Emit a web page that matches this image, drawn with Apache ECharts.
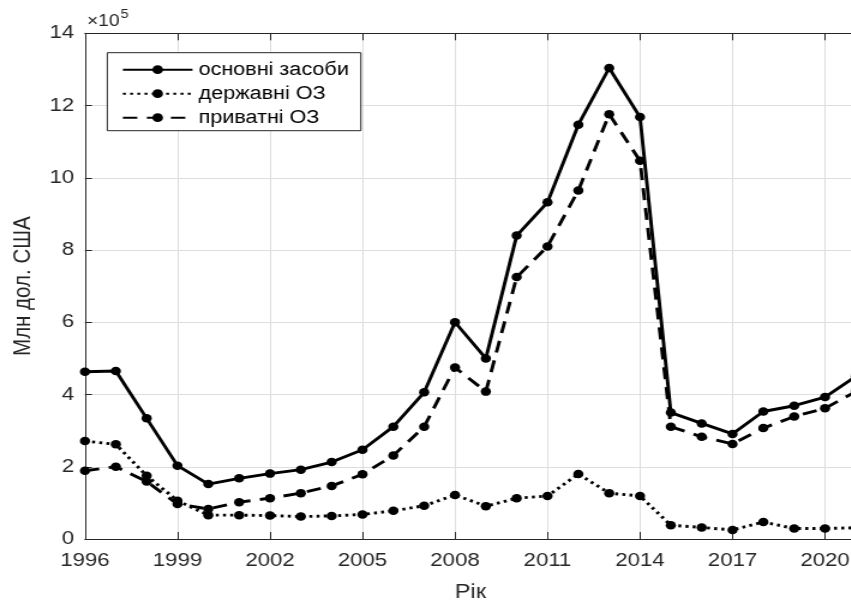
<!DOCTYPE html>
<html>
<head>
<meta charset="utf-8">
<script src="https://cdn.jsdelivr.net/npm/echarts@6/dist/echarts.min.js"></script>
<style>
  html, body { margin: 0; padding: 0; background: #fff; overflow: hidden; width: 851px; height: 602px; }
  /* the plot is laid out narrower and widened horizontally */
  #chart { width: 730px; height: 602px; transform: scaleX(1.2); transform-origin: 0 0; }
</style>
</head>
<body>
<div id="chart"></div>
<script>
// Years on the x axis
const years = [1996, 1997, 1998, 1999, 2000, 2001, 2002, 2003, 2004, 2005, 2006, 2007, 2008,
               2009, 2010, 2011, 2012, 2013, 2014, 2015, 2016, 2017, 2018, 2019, 2020, 2021];

// Fixed assets, total (млн дол. США)
const totalAssets = [463000, 465000, 334000, 203000, 152000, 168000, 181000, 192000, 213000, 247000,
                     311000, 406000, 600000, 500000, 840000, 932000, 1147000, 1304000, 1168000,
                     350000, 320000, 291000, 353000, 369000, 393000, 450000];

// State-owned fixed assets
const stateAssets = [271000, 262000, 175000, 106000, 66000, 66000, 65000, 62000, 64000, 68000,
                     78000, 92000, 122000, 91000, 113000, 119000, 180000, 127000, 119000,
                     38000, 32000, 25000, 47000, 29000, 29000, 31000];

// Private fixed assets
const privateAssets = [189000, 200000, 159000, 97000, 83000, 102000, 113000, 127000, 147000, 179000,
                       231000, 311000, 475000, 408000, 725000, 810000, 965000, 1176000, 1047000,
                       311000, 283000, 263000, 307000, 339000, 362000, 408000];

// Tick positions
const xTicks = [1996, 1999, 2002, 2005, 2008, 2011, 2014, 2017, 2020];
const yTicks = [0, 2, 4, 6, 8, 10, 12, 14];
const yScale = 1e5;

const seriesNames = ['основні засоби', 'державні ОЗ', 'приватні ОЗ'];

const FONT = '"Liberation Sans", Arial, Helvetica, sans-serif';
const AXIS = '#262626';
const GRIDLINE = '#dedede';

const pairs = (vals) => years.map((y, i) => [y, vals[i]]);

const lineSeries = (name, vals, lineType) => ({
  name: name,
  type: 'line',
  data: pairs(vals),
  symbol: 'circle',
  symbolSize: 8.5,
  showSymbol: true,
  clip: true,
  animation: false,
  itemStyle: { color: '#000' },
  lineStyle: { color: '#000', width: 2.9, type: lineType },
  emphasis: { disabled: true }
});

const chart = echarts.init(document.getElementById('chart'), null, { renderer: 'canvas' });

chart.setOption({
  animation: false,
  backgroundColor: '#fff',
  // exponent marker of the y axis: ×10^5
  title: [
    { text: '×10', left: 72.5, top: 14, padding: 0,
      textStyle: { fontFamily: FONT, fontSize: 16, fontWeight: 'normal', color: AXIS } },
    { text: '5', left: 100.5, top: 9, padding: 0,
      textStyle: { fontFamily: FONT, fontSize: 12, fontWeight: 'normal', color: AXIS } }
  ],
  grid: {
    left: 70.8, right: 16.8, top: 33.3, bottom: 63,
    containLabel: false,
    outerBoundsMode: 'none'
  },
  legend: {
    orient: 'vertical',
    left: 89.4,
    top: 52.7,
    padding: [7, 10, 3, 12],
    itemGap: 4,
    itemWidth: 58,
    itemHeight: 11,
    backgroundColor: '#fff',
    borderColor: AXIS,
    borderWidth: 1,
    borderRadius: 0,
    selectedMode: false,
    textStyle: { fontFamily: FONT, fontSize: 18, color: '#000', lineHeight: 20 },
    data: seriesNames
  },
  xAxis: [{
    type: 'value',
    position: 'bottom',
    min: years[0],
    max: years[years.length - 1],
    name: 'Рік',
    nameLocation: 'middle',
    nameGap: 44,
    nameTextStyle: { fontFamily: FONT, fontSize: 19.5, color: AXIS },
    axisLine: { show: true, onZero: false, lineStyle: { color: AXIS, width: 1 } },
    axisTick: { show: true, inside: true, length: 7, customValues: xTicks, lineStyle: { color: AXIS, width: 1 } },
    axisLabel: { show: true, customValues: xTicks, margin: 12, fontFamily: FONT, fontSize: 18.5, color: AXIS,
                 formatter: (v) => String(v) },
    splitLine: { show: true, lineStyle: { color: GRIDLINE, width: 1 } }
  }, {
    type: 'value',
    position: 'top',
    min: years[0],
    max: years[years.length - 1],
    axisLine: { show: true, onZero: false, lineStyle: { color: AXIS, width: 1 } },
    axisTick: { show: true, inside: true, length: 7, customValues: xTicks, lineStyle: { color: AXIS, width: 1 } },
    axisLabel: { show: false },
    splitLine: { show: false }
  }],
  yAxis: [{
    type: 'value',
    min: yTicks[0] * yScale,
    max: yTicks[yTicks.length - 1] * yScale,
    interval: 2 * yScale,
    name: 'Млн дол. США',
    nameLocation: 'middle',
    nameRotate: 90,
    nameGap: 37.5,
    nameTextStyle: { fontFamily: FONT, fontSize: 20.5, color: AXIS },
    axisLine: { show: true, onZero: false, lineStyle: { color: AXIS, width: 1 } },
    axisTick: { show: true, inside: true, length: 5.8, lineStyle: { color: AXIS, width: 1 } },
    axisLabel: { show: true, margin: 9, fontFamily: FONT, fontSize: 18.5, color: AXIS,
                 formatter: (v) => String(Math.round(v / yScale)) },
    splitLine: { show: true, lineStyle: { color: GRIDLINE, width: 1 } }
  }],
  series: [
    lineSeries(seriesNames[0], totalAssets, 'solid'),
    lineSeries(seriesNames[1], stateAssets, [2.5, 3.5]),
    lineSeries(seriesNames[2], privateAssets, [12, 8])
  ]
});
</script>
</body>
</html>
